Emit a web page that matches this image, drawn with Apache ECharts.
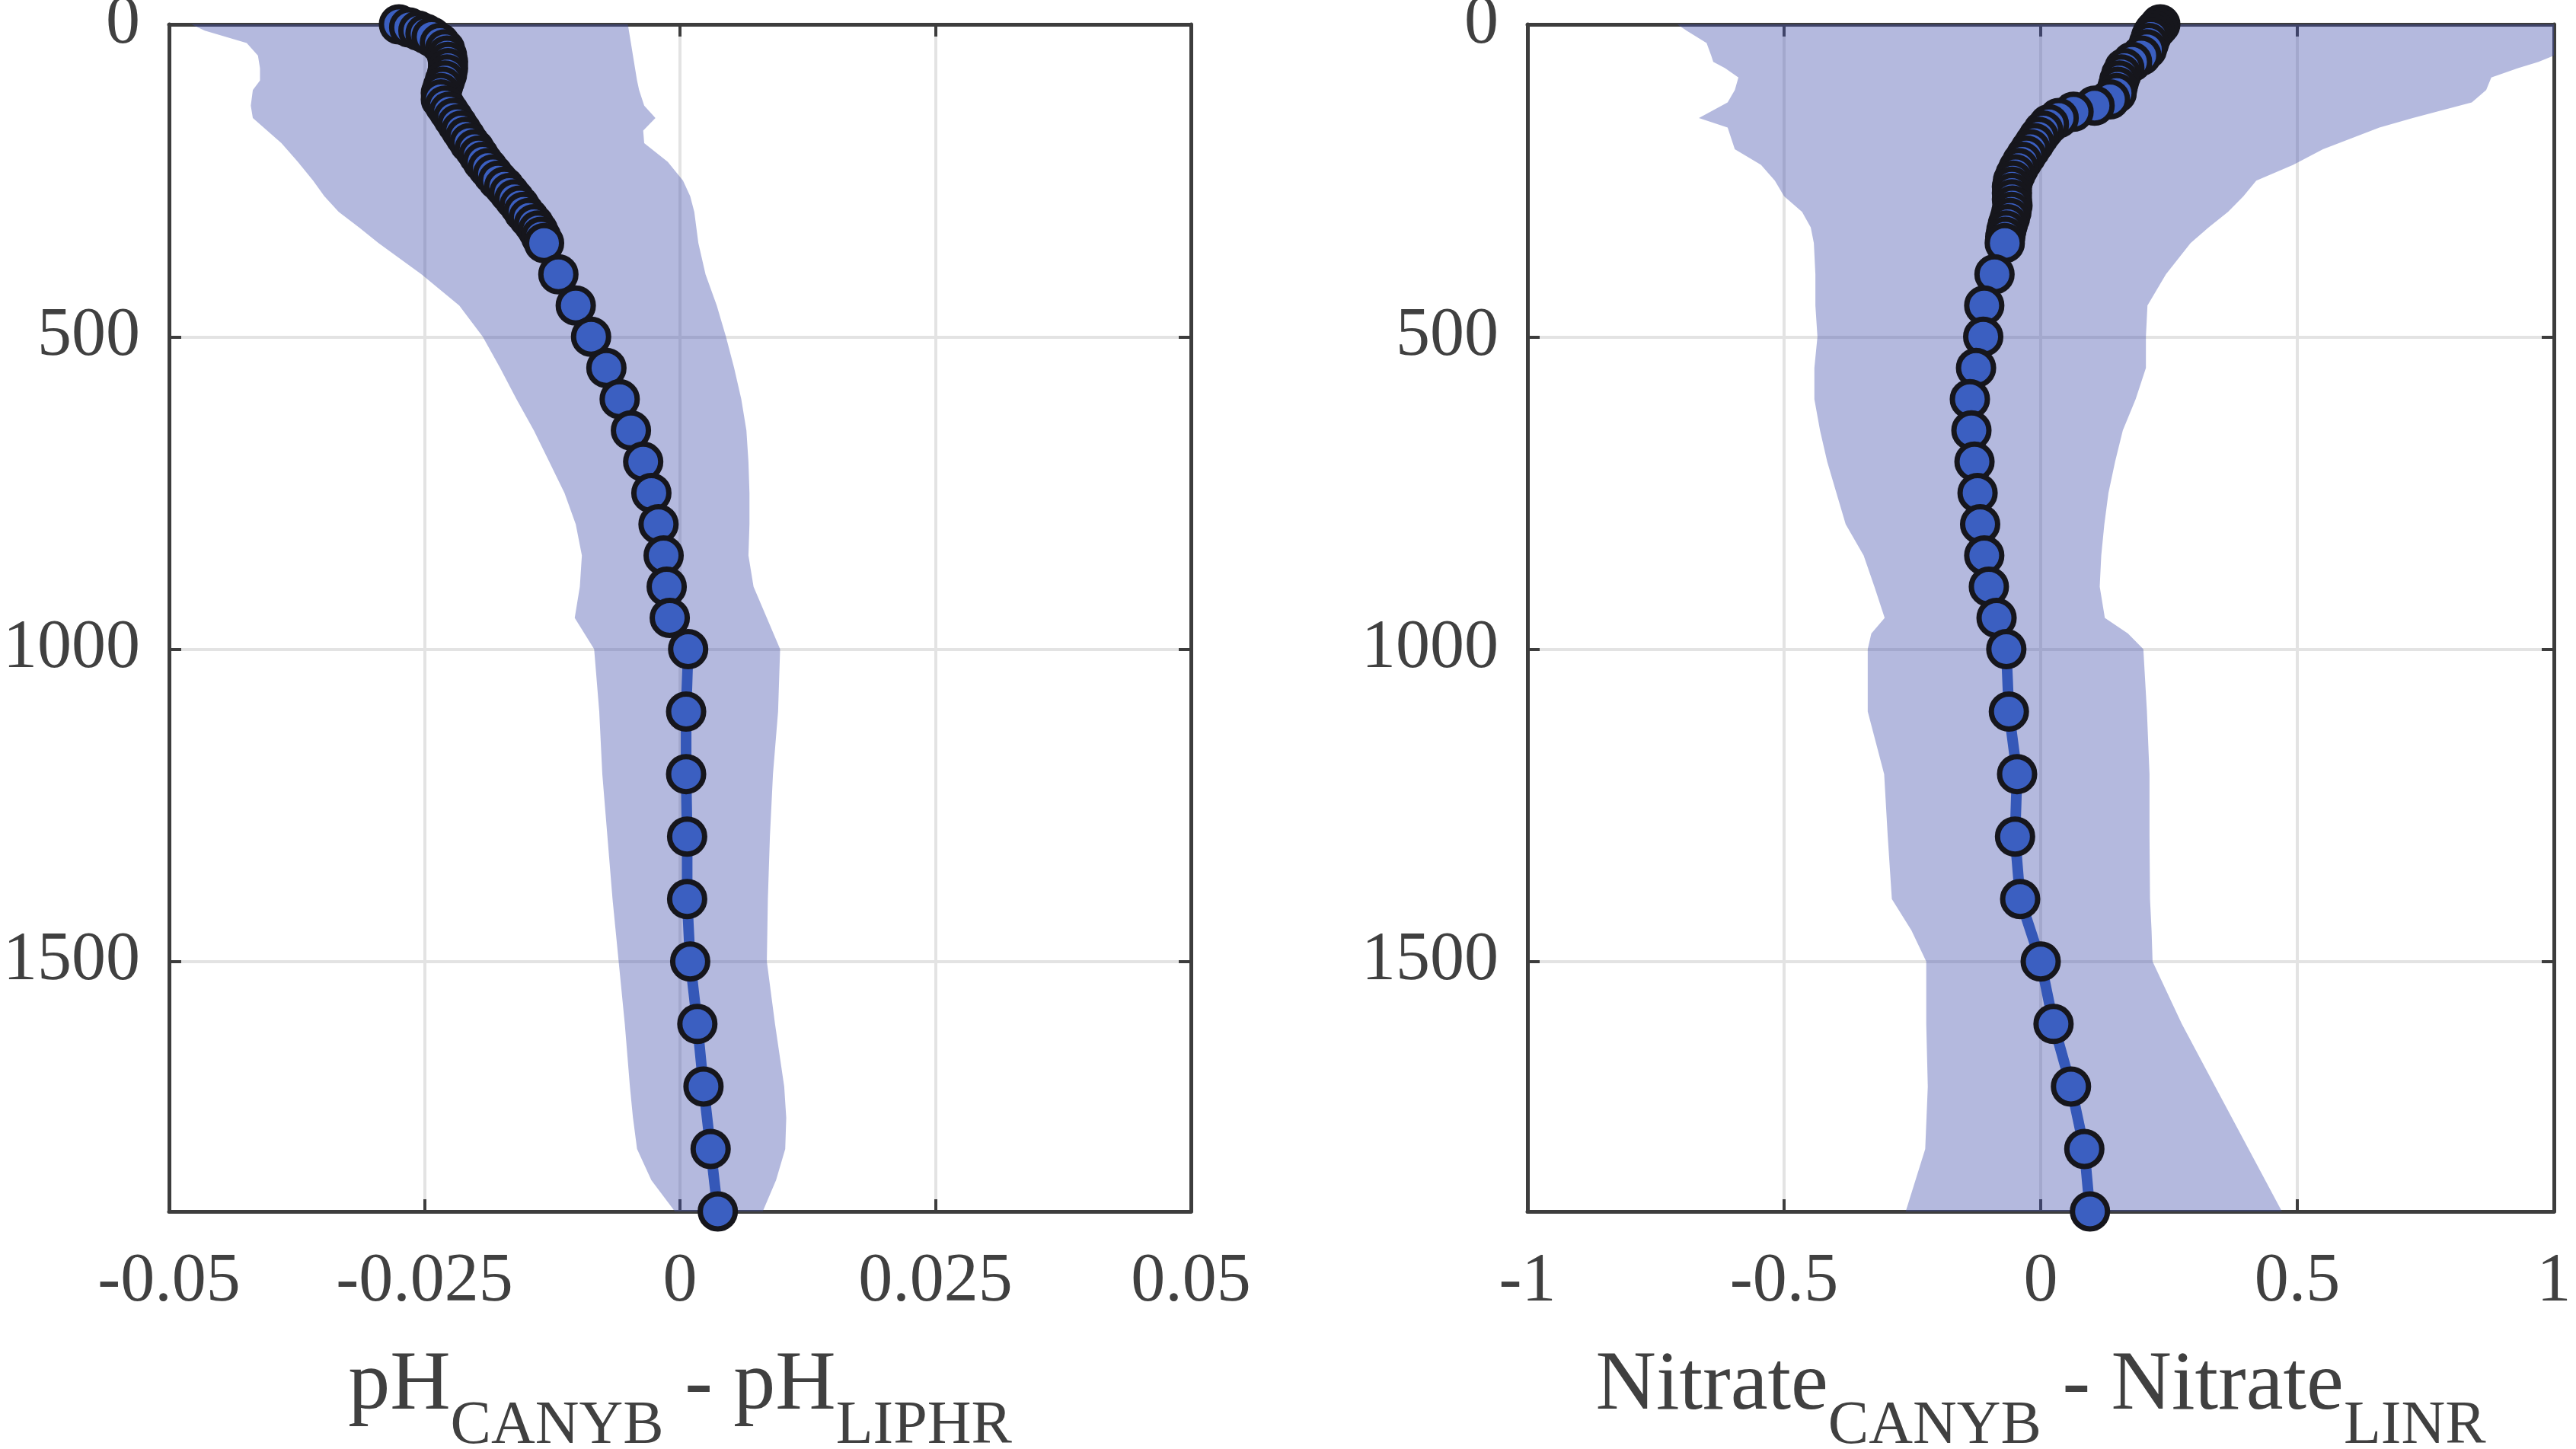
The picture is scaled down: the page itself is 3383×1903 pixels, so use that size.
<!DOCTYPE html>
<html lang="en">
<head>
<meta charset="utf-8">
<title>pH and nitrate differences with depth</title>
<style>
  * { margin: 0; padding: 0; }
  body { background: #fff; }
  #chart-container { width: 3383px; height: 1903px; }
</style>
</head>
<body>
<div id="chart-container"></div>
<script src="https://cdn.jsdelivr.net/npm/echarts@6/dist/echarts.min.js"></script>
<script>
// depth levels (m) of the profile points
var depths = [0, 5, 10, 15, 20, 30, 40, 50, 60, 70, 80, 90, 100, 110, 120, 130, 140, 150, 160, 170,
  180, 190, 200, 210, 220, 230, 240, 250, 260, 270, 280, 290, 300, 310, 320, 330, 340,
  350, 400, 450, 500, 550, 600, 650, 700, 750, 800, 850, 900, 950,
  1000, 1100, 1200, 1300, 1400, 1500, 1600, 1700, 1800, 1900];

// pH CANYB - pH LIPHR
var phDiff = [-0.0275, -0.0265, -0.0256, -0.0249, -0.0243, -0.0235, -0.0230, -0.0228, -0.0227, -0.0227,
  -0.0228, -0.0230, -0.0232, -0.0234, -0.0234, -0.0230, -0.0226, -0.0222, -0.0218, -0.0214,
  -0.0210, -0.0206, -0.0201, -0.0197, -0.0193, -0.0188, -0.0183, -0.0178, -0.0172, -0.0167,
  -0.0162, -0.0157, -0.0153, -0.0148, -0.0143, -0.0139, -0.0136,
  -0.0133, -0.0119, -0.0102, -0.0087, -0.0072, -0.0059, -0.0048, -0.0036, -0.0028, -0.0021,
  -0.0016, -0.0013, -0.0010,
  0.0008, 0.0006, 0.0006, 0.0007, 0.0007, 0.0010, 0.0017, 0.0023, 0.0030, 0.0037];

// Nitrate CANYB - Nitrate LINR
var nitrateDiff = [0.233, 0.228, 0.222, 0.218, 0.215, 0.211, 0.207, 0.196, 0.178, 0.163,
  0.157, 0.153, 0.150, 0.148, 0.135, 0.105, 0.064, 0.035, 0.016, 0.005,
  -0.004, -0.012, -0.020, -0.028, -0.036, -0.043, -0.049, -0.054, -0.056, -0.056,
  -0.056, -0.055, -0.057, -0.060, -0.064, -0.067, -0.069,
  -0.070, -0.090, -0.110, -0.112, -0.126, -0.138, -0.135, -0.129, -0.123, -0.118,
  -0.110, -0.101, -0.086,
  -0.067, -0.062, -0.046, -0.050, -0.040, 0.000, 0.025, 0.059, 0.085, 0.096];

// shaded spread for pH: left and right edge at each depth
var phBandDepth = [0, 10, 30, 50, 70, 90, 105, 130, 150, 170, 190, 220, 250, 275, 300, 325, 350,
  400, 450, 500, 550, 600, 650, 700, 750, 800, 850, 900, 950,
  1000, 1100, 1200, 1300, 1400, 1500, 1600, 1700, 1750, 1800, 1850, 1900];
var phBandLow = [-0.0478, -0.0465, -0.0424, -0.0413, -0.0411, -0.0411, -0.0418, -0.0420, -0.0418, -0.0404,
  -0.0390, -0.0374, -0.0359, -0.0348, -0.0334, -0.0314, -0.0295,
  -0.0253, -0.0216, -0.0193, -0.0176, -0.0160, -0.0143, -0.0128, -0.0113, -0.0102, -0.0096, -0.0098, -0.0103,
  -0.0084, -0.0079, -0.0076, -0.0071, -0.0066, -0.0060, -0.0054, -0.0049, -0.0046, -0.0042, -0.0028, -0.0005];
var phBandHigh = [-0.0051, -0.0050, -0.0048, -0.0046, -0.0044, -0.0042, -0.0040, -0.0035, -0.0024, -0.0036,
  -0.0035, -0.0012, 0.0003, 0.0010, 0.0014, 0.0016, 0.0018,
  0.0025, 0.0036, 0.0045, 0.0053, 0.0060, 0.0065, 0.0067, 0.0068, 0.0068, 0.0067, 0.0072, 0.0085,
  0.0098, 0.0096, 0.0091, 0.0088, 0.0086, 0.0085, 0.0093, 0.0102, 0.0104, 0.0103, 0.0094, 0.0081];

// shaded spread for nitrate
var nitrateBandDepth = [0, 10, 30, 50, 60, 70, 85, 105, 125, 150, 165, 200, 225, 250, 275, 300, 325, 350,
  400, 450, 500, 550, 600, 650, 700, 750, 800, 850, 900, 950, 975,
  1000, 1100, 1200, 1300, 1400, 1450, 1500, 1600, 1700, 1800, 1900];
var nitrateBandLow = [-0.708, -0.690, -0.651, -0.642, -0.638, -0.615, -0.589, -0.596, -0.610, -0.666,
  -0.610, -0.596, -0.545, -0.518, -0.500, -0.465, -0.448, -0.442,
  -0.439, -0.439, -0.435, -0.441, -0.441, -0.430, -0.416, -0.398, -0.380, -0.345, -0.324, -0.304, -0.330,
  -0.337, -0.337, -0.305, -0.298, -0.290, -0.252, -0.223, -0.223, -0.220, -0.225, -0.263];
var nitrateBandHigh = [1.0, 1.0, 1.0, 1.0, 0.97, 0.93, 0.878, 0.868, 0.840, 0.725,
  0.660, 0.550, 0.492, 0.420, 0.395, 0.365, 0.327, 0.292,
  0.244, 0.208, 0.205, 0.205, 0.185, 0.160, 0.145, 0.132, 0.124, 0.118, 0.115, 0.125, 0.170,
  0.200, 0.207, 0.212, 0.212, 0.213, 0.216, 0.218, 0.275, 0.340, 0.405, 0.470];

// axis ranges and ticks
var depthMin = 0, depthMax = 1900, depthStep = 500;
var phMin = -0.05, phMax = 0.05, phStep = 0.025;
var nitrateMin = -1, nitrateMax = 1, nitrateStep = 0.5;

var axisColor = '#3d3d3d';
var textColor = '#404040';
var serif = '"Liberation Serif", "Times New Roman", serif';
var bandColor = 'rgba(68, 80, 173, 0.4)';

var dom = document.getElementById('chart-container');
var myChart = echarts.init(dom, null, { renderer: 'canvas' });

function fmt(v) {
  return String(Math.round(v * 1000) / 1000);
}

function xAxes(gridIndex, min, max, step, title) {
  var common = {
    type: 'value',
    gridIndex: gridIndex,
    min: min,
    max: max,
    interval: step,
    axisLine: { show: true, onZero: false, lineStyle: { color: axisColor, width: 5 } },
    axisTick: { show: true, inside: true, length: 16, lineStyle: { color: axisColor, width: 4 } }
  };
  var bottom = Object.assign({}, common, {
    position: 'bottom',
    axisLabel: { show: true, margin: 48, fontFamily: serif, fontSize: 90, color: textColor, formatter: fmt },
    splitLine: { show: true, lineStyle: { color: '#e3e3e3', width: 4 } },
    name: title,
    nameLocation: 'middle',
    nameGap: 175,
    nameTextStyle: {
      fontFamily: serif,
      color: textColor,
      rich: {
        n: { fontFamily: serif, fontSize: 110, lineHeight: 110, verticalAlign: 'top', color: textColor },
        s: { fontFamily: serif, fontSize: 80, lineHeight: 215, color: textColor }
      }
    }
  });
  var top = Object.assign({}, common, {
    position: 'top',
    axisLabel: { show: false },
    splitLine: { show: false }
  });
  return [bottom, top];
}

function yAxes(gridIndex) {
  var common = {
    type: 'value',
    gridIndex: gridIndex,
    inverse: true,
    min: depthMin,
    max: depthMax,
    interval: depthStep,
    axisLine: { show: true, onZero: false, lineStyle: { color: axisColor, width: 5 } },
    axisTick: { show: true, inside: true, length: 16, lineStyle: { color: axisColor, width: 4 } }
  };
  var left = Object.assign({}, common, {
    position: 'left',
    axisLabel: {
      show: true, margin: 38, fontFamily: serif, fontSize: 90, color: textColor,
      showMaxLabel: false, formatter: function (v) { return String(v); }
    },
    splitLine: { show: true, lineStyle: { color: '#e3e3e3', width: 4 } }
  });
  var right = Object.assign({}, common, {
    position: 'right',
    axisLabel: { show: false },
    splitLine: { show: false }
  });
  return [left, right];
}

function bandSeries(xi, yi, bandDepth, low, high) {
  return {
    type: 'custom',
    xAxisIndex: xi,
    yAxisIndex: yi,
    silent: true,
    clip: true,
    z: 1,
    data: [[0, 0]],
    renderItem: function (params, api) {
      var pts = [];
      for (var i = 0; i < bandDepth.length; i++) {
        pts.push(api.coord([low[i], bandDepth[i]]));
      }
      for (var j = bandDepth.length - 1; j >= 0; j--) {
        pts.push(api.coord([high[j], bandDepth[j]]));
      }
      return { type: 'polygon', shape: { points: pts }, style: { fill: bandColor } };
    }
  };
}

function profileSeries(xi, yi, values) {
  return {
    type: 'line',
    xAxisIndex: xi,
    yAxisIndex: yi,
    data: depths.map(function (d, i) { return [values[i], d]; }),
    symbol: 'circle',
    symbolSize: 46,
    showAllSymbol: true,
    clip: false,
    z: 3,
    lineStyle: { color: '#3558b8', width: 14 },
    itemStyle: { color: '#3b5fc1', borderColor: '#16161c', borderWidth: 7 }
  };
}

var option = {
  backgroundColor: '#ffffff',
  animation: false,
  grid: [
    { left: 222, top: 32, width: 1342, height: 1559, outerBoundsMode: 'none', containLabel: false },
    { left: 2006, top: 32, width: 1348, height: 1559, outerBoundsMode: 'none', containLabel: false }
  ],
  xAxis: xAxes(0, phMin, phMax, phStep, '{n|pH}{s|CANYB}{n| - pH}{s|LIPHR}')
    .concat(xAxes(1, nitrateMin, nitrateMax, nitrateStep, '{n|Nitrate}{s|CANYB}{n| - Nitrate}{s|LINR}')),
  yAxis: yAxes(0).concat(yAxes(1)),
  series: [
    bandSeries(0, 0, phBandDepth, phBandLow, phBandHigh),
    profileSeries(0, 0, phDiff),
    bandSeries(2, 2, nitrateBandDepth, nitrateBandLow, nitrateBandHigh),
    profileSeries(2, 2, nitrateDiff)
  ]
};

myChart.setOption(option);
window.addEventListener('resize', myChart.resize);
</script>
</body>
</html>
